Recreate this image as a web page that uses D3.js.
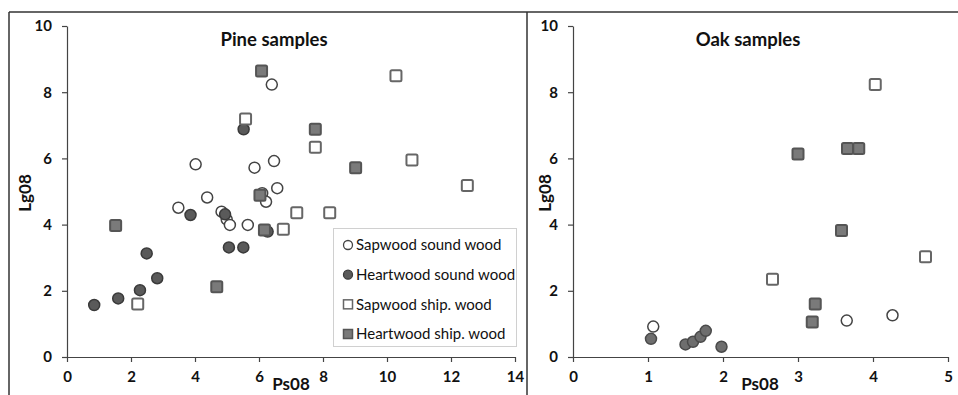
<!DOCTYPE html>
<html>
<head>
<meta charset="utf-8">
<script src="https://cdn.jsdelivr.net/npm/d3@7"></script>
<style>
  body { margin: 0; background: #fff; }
  svg text { font-family: Lato, "Open Sans", sans-serif; }
</style>
</head>
<body>
<div id="chart"></div>
<script>
// series names (legend order)
const seriesNames = ["Sapwood sound wood", "Heartwood sound wood", "Sapwood ship. wood", "Heartwood ship. wood"];

// Pine samples: [Ps08, Lg08]
const pineSapSound = [[6.4, 8.23], [4.02, 5.82], [5.86, 5.72], [6.47, 5.92], [6.57, 5.1], [4.38, 4.82],
  [3.48, 4.51], [4.83, 4.39], [4.99, 4.16], [5.09, 3.99], [5.65, 3.99], [6.1, 4.95], [6.22, 4.69]];
const pineHeartSound = [[5.52, 6.88], [3.86, 4.29], [4.94, 4.31], [6.27, 3.79], [5.06, 3.31], [5.51, 3.31],
  [2.49, 3.13], [2.82, 2.38], [2.28, 2.02], [1.6, 1.77], [0.85, 1.57]];
const pineSapShip = [[5.58, 7.19], [7.76, 6.34], [10.28, 8.5], [10.78, 5.95], [12.51, 5.18],
  [6.76, 3.86], [7.18, 4.36], [8.21, 4.36], [2.21, 1.6]];
const pineHeartShip = [[6.08, 8.64], [7.76, 6.88], [9.02, 5.72], [6.03, 4.89], [6.17, 3.84], [4.68, 2.12], [1.52, 3.97]];

// Oak samples
const oakSapSound = [[3.65, 1.1], [4.26, 1.26], [1.07, 0.92]];
const oakHeartSound = [[1.04, 0.55], [1.5, 0.38], [1.6, 0.46], [1.7, 0.61], [1.77, 0.79], [1.98, 0.31]];
const oakSapShip = [[4.03, 8.23], [4.7, 3.03], [2.66, 2.35]];
const oakHeartShip = [[3.66, 6.3], [3.81, 6.3], [3.0, 6.13], [3.58, 3.82], [3.23, 1.6], [3.19, 1.06]];

// tick labels
const yTicks = [0, 2, 4, 6, 8, 10];
const pineXTicks = [0, 2, 4, 6, 8, 10, 12, 14];
const oakXTicks = [0, 1, 2, 3, 4, 5];

const W = 958, H = 395;
const svg = d3.select("#chart").append("svg").attr("width", W).attr("height", H);

// frame lines
svg.append("line").attr("x1", 9).attr("x2", W).attr("y1", 12).attr("y2", 12).attr("stroke", "#333").attr("stroke-width", 1.5);
svg.append("line").attr("x1", 9).attr("x2", 9).attr("y1", 12).attr("y2", H).attr("stroke", "#333").attr("stroke-width", 1.5);
svg.append("line").attr("x1", 527).attr("x2", 527).attr("y1", 12).attr("y2", H).attr("stroke", "#333").attr("stroke-width", 1.5);

const styles = {
  sapSound: { shape: "circle", fill: "#fff", stroke: "#444" },
  heartSound: { shape: "circle", fill: "#5a5a5a", stroke: "#3a3a3a" },
  sapShip: { shape: "square", fill: "#fff", stroke: "#666" },
  heartShip: { shape: "square", fill: "#7a7a7a", stroke: "#555" }
};

function drawMarks(g, data, st, x, y) {
  if (st.shape === "circle") {
    g.selectAll(null).data(data).enter().append("circle")
      .attr("cx", d => x(d[0])).attr("cy", d => y(d[1])).attr("r", 5.5)
      .attr("fill", st.fill).attr("stroke", st.stroke).attr("stroke-width", 1.5);
  } else {
    g.selectAll(null).data(data).enter().append("rect")
      .attr("x", d => x(d[0]) - 5.5).attr("y", d => y(d[1]) - 5.5)
      .attr("width", 11).attr("height", 11).attr("rx", 1.5)
      .attr("fill", st.fill).attr("stroke", st.stroke).attr("stroke-width", 2);
  }
}

function panel(opt) {
  const x = d3.scaleLinear().domain(opt.xDomain).range([opt.x0, opt.x1]);
  const y = d3.scaleLinear().domain([0, 10]).range([357, 26]);
  const g = svg.append("g");

  const xAxis = g.append("g").attr("transform", "translate(0,357)")
    .call(d3.axisBottom(x).tickValues(opt.xTicks).tickFormat(d3.format("d"))
      .tickSize(5).tickSizeOuter(0).tickPadding(9));
  const yAxis = g.append("g").attr("transform", "translate(" + opt.x0 + ",0)")
    .call(d3.axisLeft(y).tickValues(yTicks).tickSize(5).tickSizeOuter(0).tickPadding(10));
  [xAxis, yAxis].forEach(a => {
    a.select(".domain").attr("stroke", "#444").attr("stroke-width", 1.2);
    a.selectAll(".tick line").attr("stroke", "#444").attr("stroke-width", 1.2);
    a.selectAll(".tick text").attr("fill", "#111").style("font-size", "15px").style("font-weight", "bold");
  });

  g.append("text").attr("x", opt.titleX).attr("y", 46).attr("text-anchor", "middle")
    .style("font-size", "18.5px").style("font-weight", "bold").attr("fill", "#111").text(opt.title);
  g.append("text").attr("x", opt.xLabelX).attr("y", 390).attr("text-anchor", "middle")
    .style("font-size", "17px").style("font-weight", "bold").attr("fill", "#111").text("Ps08");
  g.append("text").attr("transform", "translate(" + opt.yLabelX + ",193) rotate(-90)")
    .attr("text-anchor", "middle").attr("dy", "0.35em")
    .style("font-size", "17px").style("font-weight", "bold").attr("fill", "#111").text("Lg08");

  drawMarks(g, opt.data[0], styles.sapSound, x, y);
  drawMarks(g, opt.data[1], opt.heartSoundStyle, x, y);
  drawMarks(g, opt.data[2], styles.sapShip, x, y);
  drawMarks(g, opt.data[3], styles.heartShip, x, y);
}

panel({
  xDomain: [0, 14], x0: 67, x1: 515, xTicks: pineXTicks,
  title: "Pine samples", titleX: 274, xLabelX: 291, yLabelX: 25,
  data: [pineSapSound, pineHeartSound, pineSapShip, pineHeartShip],
  heartSoundStyle: styles.heartSound
});
panel({
  xDomain: [0, 5], x0: 573, x1: 948, xTicks: oakXTicks,
  title: "Oak samples", titleX: 748, xLabelX: 760, yLabelX: 545,
  data: [oakSapSound, oakHeartSound, oakSapShip, oakHeartShip],
  heartSoundStyle: { shape: "circle", fill: "#6e6e6e", stroke: "#4a4a4a" }
});

// legend
const leg = svg.append("g");
leg.append("rect").attr("x", 333.5).attr("y", 228.5).attr("width", 183).attr("height", 118)
  .attr("fill", "#fff").attr("stroke", "#d0d0d0");
const legStyles = [styles.sapSound, styles.heartSound, styles.sapShip, styles.heartShip];
const legY = d3.scalePoint().domain(seriesNames).range([245, 334]);
seriesNames.forEach((name, i) => {
  const st = legStyles[i];
  const cy = legY(name);
  if (st.shape === "circle") {
    leg.append("circle").attr("cx", 348).attr("cy", cy).attr("r", 4.5)
      .attr("fill", st.fill).attr("stroke", st.stroke).attr("stroke-width", 1.3);
  } else {
    leg.append("rect").attr("x", 343.5).attr("y", cy - 4.5).attr("width", 9).attr("height", 9)
      .attr("fill", st.fill).attr("stroke", st.stroke).attr("stroke-width", 1.5);
  }
  leg.append("text").attr("x", 356).attr("y", cy).attr("dy", "0.35em")
    .style("font-size", "15px").attr("fill", "#111").text(name);
});
</script>
</body>
</html>
